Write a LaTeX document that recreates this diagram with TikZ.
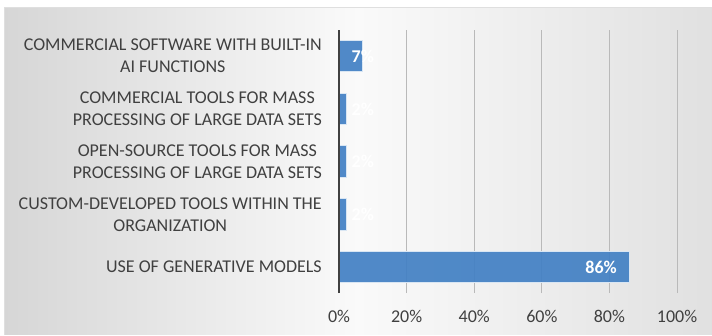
\documentclass[tikz,border=0pt]{standalone}
\usepackage{fontspec}
\setmainfont{Carlito}
\definecolor{barblue}{RGB}{66,128,196}
\definecolor{labelgray}{RGB}{64,64,64}
\begin{document}
\begin{tikzpicture}[x=1pt, y=1pt,
  bar node/.style={fill=barblue, fill opacity=.92, draw=white!80!barblue, line width=.6pt},
  cat label/.style={anchor=east, align=center, text=labelgray, font=\fontsize{18}{21.7}\selectfont, inner sep=0pt},
  tick label/.style={text=labelgray, font=\fontsize{18}{20}\selectfont, inner sep=0pt},
  val label/.style={text=white, font=\fontsize{18}{20}\selectfont\bfseries, inner sep=0pt},
  grid line/.style={draw=gray!55, line width=.8pt}]
\useasboundingbox (0,0) rectangle (712,335);
% panel
\shade[left color=gray!32, right color=gray!24, middle color=gray!4] (4.5,0.5) rectangle (712,327.5);
\draw[gray!25, line width=.8pt] (4.5,0.5) -- (4.5,327.5) -- (712,327.5);
% grid
\begin{scope}
\draw[grid line] (406.6,42) -- (406.6,305);
\draw[grid line] (474.2,42) -- (474.2,305);
\draw[grid line] (541.8,42) -- (541.8,305);
\draw[grid line] (609.4,42) -- (609.4,305);
\draw[grid line] (677,42) -- (677,305);
\end{scope}
% bars
\begin{scope}
\fill[bar node] (339,263.3) rectangle (362.7,294.7);
\fill[bar node] (339,210.3) rectangle (345.8,241.7);
\fill[bar node] (339,157.8) rectangle (345.8,189.2);
\fill[bar node] (339,104.8) rectangle (345.8,136.2);
\fill[bar node] (339,52.3) rectangle (629.7,83.7);
\draw[labelgray, line width=1.6pt] (339,42) -- (339,305);
\end{scope}
% values
\begin{scope}[every node/.style={val label}]
\node[anchor=west] (v1) at (351.5,279) {7\%};
\node[anchor=west] (v2) at (351.5,226) {2\%};
\node[anchor=west] (v3) at (351.5,173.5) {2\%};
\node[anchor=west] (v4) at (351.5,120.5) {2\%};
\node[anchor=east] (v5) at (617,68) {86\%};
\end{scope}
% categories
\begin{scope}[every node/.style={cat label}]
\node (c1) at (322,279) {COMMERCIAL SOFTWARE WITH BUILT-IN\\AI FUNCTIONS};
\node (c2) at (322,226) {COMMERCIAL TOOLS FOR MASS\\PROCESSING OF LARGE DATA SETS};
\node (c3) at (322,173.5) {OPEN-SOURCE TOOLS FOR MASS\\PROCESSING OF LARGE DATA SETS};
\node (c4) at (322,120.5) {CUSTOM-DEVELOPED TOOLS WITHIN THE\\ORGANIZATION};
\node (c5) at (322,68) {USE OF GENERATIVE MODELS};
\end{scope}
% ticks
\begin{scope}[every node/.style={tick label}]
\node (t0) at (339,18.3) {0\%};
\node (t20) at (406.6,18.3) {20\%};
\node (t40) at (474.2,18.3) {40\%};
\node (t60) at (541.8,18.3) {60\%};
\node (t80) at (609.4,18.3) {80\%};
\node (t100) at (677,18.3) {100\%};
\end{scope}
\end{tikzpicture}
\end{document}
